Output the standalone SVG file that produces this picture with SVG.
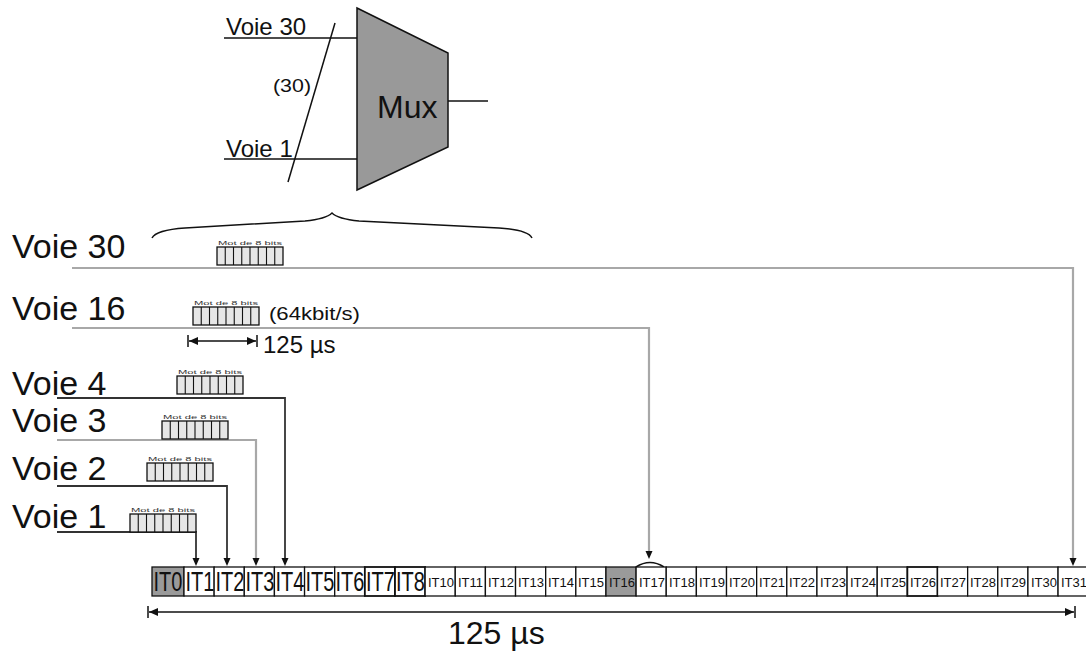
<svg xmlns="http://www.w3.org/2000/svg" xmlns:xlink="http://www.w3.org/1999/xlink" width="1086" height="653" viewBox="0 0 1086 653">
<style>
text{font-family:"Liberation Sans",Arial,sans-serif;fill:#111}
.lbl{font-size:34px}
.lbl2{font-size:24px}
.big{font-size:20px}
.sm{font-size:13px}
.tiny{font-size:6px;fill:#333}
.cell{fill:#fff;stroke:#111;stroke-width:1.3}
.gcell{fill:#9a9a9a;stroke:#111;stroke-width:1.3}
.ln{fill:none;stroke:#111;stroke-width:1.5}
.gray{fill:none;stroke:#a8a8a8;stroke-width:2.2}
.dark{fill:none;stroke:#333;stroke-width:1.8}
.wb{fill:#e6e6e6;stroke:#111;stroke-width:1.3}
.wl{stroke:#111;stroke-width:1.1}
</style>
<defs>
<marker id="ahs" markerUnits="userSpaceOnUse" markerWidth="10" markerHeight="9" refX="9" refY="4" orient="auto-start-reverse">
<path d="M0,0 L9,4 L0,8 Z" fill="#111"/>
</marker>
<g id="word">
<text class="tiny" x="1" y="-2.5" textLength="64" lengthAdjust="spacingAndGlyphs">Mot  de  8  bits</text>
<rect class="wb" x="0" y="0" width="66" height="18"/>
<path class="wl" d="M8.25,0V18M16.5,0V18M24.75,0V18M33,0V18M41.25,0V18M49.5,0V18M57.75,0V18"/>
</g>
</defs>

<g id="mux">
<line class="ln" x1="224" y1="38" x2="357" y2="38"/>
<line class="ln" x1="224" y1="159" x2="357" y2="159"/>
<line class="ln" x1="335" y1="23" x2="288" y2="182" stroke-width="1.2"/>
<text class="lbl2" x="226" y="35">Voie 30</text>
<text class="lbl2" x="226" y="157">Voie 1</text>
<text x="273" y="92" style="font-size:18px" textLength="38" lengthAdjust="spacingAndGlyphs">(30)</text>
<polygon points="357,8 448,53 448,147 357,190" fill="#999" stroke="#111" stroke-width="1.5"/>
<text x="377" y="118" style="font-size:32px">Mux</text>
<line class="ln" x1="448" y1="101" x2="488" y2="101"/>
</g>

<g id="brace">
<path class="ln" d="M152,238 Q156,230 185,228 L305,221 Q326,219 332,213 Q338,219 359,221 L499,228 Q528,230 532,238" stroke-width="1.6"/>
</g>

<g id="connectors">
<path class="gray" d="M72,268 H1073 V560"/>
<path class="gray" d="M72,328 H649 V555"/>
<path class="dark" d="M57,398 H285 V560"/>
<path class="gray" d="M57,440 H256 V560" stroke-width="1.8"/>
<path class="dark" d="M57,486 H227 V560"/>
<path class="dark" d="M57,532 H196 V560"/>
<path d="M1073,558 l-3.5,0 l3.5,8 l3.5,-8 z" fill="#111"/>
<path d="M649,551 l-3.5,0 l3.5,8 l3.5,-8 z" fill="#111"/>
<path d="M285,558 l-3.5,0 l3.5,8 l3.5,-8 z" fill="#111"/>
<path d="M256,558 l-3.5,0 l3.5,8 l3.5,-8 z" fill="#111"/>
<path d="M227,558 l-3.5,0 l3.5,8 l3.5,-8 z" fill="#111"/>
<path d="M196,558 l-3.5,0 l3.5,8 l3.5,-8 z" fill="#111"/>
<path class="ln" d="M636,567 Q650,558 664,567" stroke-width="1.6"/>
</g>

<g id="voie30">
<text class="lbl" x="12" y="258">Voie 30</text>
<use xlink:href="#word" x="217" y="247"/>
</g>
<g id="voie16">
<text class="lbl" x="12" y="320">Voie 16</text>
<use xlink:href="#word" x="193" y="307"/>
<text x="269" y="320" style="font-size:19px" textLength="91" lengthAdjust="spacingAndGlyphs">(64kbit/s)</text>
<line class="ln" x1="189" y1="341" x2="256" y2="341" marker-start="url(#ahs)" marker-end="url(#ahs)"/>
<path class="ln" d="M188,335V347M257,335V347" stroke-width="2"/>
<text x="263" y="353" style="font-size:24px">125 µs</text>
</g>
<g id="voie4">
<text class="lbl" x="12" y="395">Voie 4</text>
<use xlink:href="#word" x="177" y="376"/>
</g>
<g id="voie3">
<text class="lbl" x="12" y="432">Voie 3</text>
<use xlink:href="#word" x="162" y="421"/>
</g>
<g id="voie2">
<text class="lbl" x="12" y="480">Voie 2</text>
<use xlink:href="#word" x="147" y="463"/>
</g>
<g id="voie1">
<text class="lbl" x="12" y="528">Voie 1</text>
<use xlink:href="#word" x="130" y="514"/>
</g>

<g id="trame">
<rect class="gcell" x="152" y="567" width="32" height="29"/>
<rect class="cell" x="184" y="567" width="30.14" height="29"/>
<rect class="cell" x="214.14" y="567" width="30.14" height="29"/>
<rect class="cell" x="244.28" y="567" width="30.14" height="29"/>
<rect class="cell" x="274.42" y="567" width="30.14" height="29"/>
<rect class="cell" x="304.56" y="567" width="30.14" height="29"/>
<rect class="cell" x="334.7" y="567" width="30.14" height="29"/>
<rect class="cell" x="364.84" y="567" width="30.14" height="29" style="stroke-width:1.8"/>
<rect class="cell" x="394.98" y="567" width="30.14" height="29" style="stroke-width:1.8"/>
<g transform="translate(0,591) scale(1,1.38)">
<text class="big" x="153.5" y="0">IT0</text>
<text class="big" x="185.5" y="0">IT1</text>
<text class="big" x="215.5" y="0">IT2</text>
<text class="big" x="245.5" y="0">IT3</text>
<text class="big" x="275.5" y="0">IT4</text>
<text class="big" x="305.5" y="0">IT5</text>
<text class="big" x="335.5" y="0">IT6</text>
<text class="big" x="366" y="0">IT7</text>
<text class="big" x="396" y="0">IT8</text>
</g>
<rect class="cell" x="425.12" y="567" width="30.14" height="29"/>
<text class="sm" x="428" y="587">IT10</text>
<rect class="cell" x="455.26" y="567" width="30.14" height="29"/>
<text class="sm" x="458" y="587">IT11</text>
<rect class="cell" x="485.4" y="567" width="30.14" height="29"/>
<text class="sm" x="488" y="587">IT12</text>
<rect class="cell" x="515.54" y="567" width="30.14" height="29"/>
<text class="sm" x="518" y="587">IT13</text>
<rect class="cell" x="545.68" y="567" width="30.14" height="29"/>
<text class="sm" x="548" y="587">IT14</text>
<rect class="cell" x="575.82" y="567" width="30.14" height="29"/>
<text class="sm" x="578" y="587">IT15</text>
<rect class="gcell" x="605.96" y="567" width="30.14" height="29"/>
<text class="sm" x="609" y="587">IT16</text>
<rect class="cell" x="636.1" y="567" width="30.14" height="29"/>
<text class="sm" x="639" y="587">IT17</text>
<rect class="cell" x="666.24" y="567" width="30.14" height="29"/>
<text class="sm" x="669" y="587">IT18</text>
<rect class="cell" x="696.38" y="567" width="30.14" height="29"/>
<text class="sm" x="699" y="587">IT19</text>
<rect class="cell" x="726.52" y="567" width="30.14" height="29"/>
<text class="sm" x="729" y="587">IT20</text>
<rect class="cell" x="756.66" y="567" width="30.14" height="29"/>
<text class="sm" x="759" y="587">IT21</text>
<rect class="cell" x="786.8" y="567" width="30.14" height="29"/>
<text class="sm" x="789" y="587">IT22</text>
<rect class="cell" x="816.94" y="567" width="30.14" height="29"/>
<text class="sm" x="820" y="587">IT23</text>
<rect class="cell" x="847.08" y="567" width="30.14" height="29"/>
<text class="sm" x="850" y="587">IT24</text>
<rect class="cell" x="877.22" y="567" width="30.14" height="29"/>
<text class="sm" x="880" y="587">IT25</text>
<rect class="cell" x="907.36" y="567" width="30.14" height="29" style="stroke-width:1.8"/>
<text class="sm" x="910" y="587">IT26</text>
<rect class="cell" x="937.5" y="567" width="30.14" height="29"/>
<text class="sm" x="940" y="587">IT27</text>
<rect class="cell" x="967.64" y="567" width="30.14" height="29"/>
<text class="sm" x="970" y="587">IT28</text>
<rect class="cell" x="997.78" y="567" width="30.14" height="29"/>
<text class="sm" x="1000" y="587">IT29</text>
<rect class="cell" x="1027.92" y="567" width="30.14" height="29"/>
<text class="sm" x="1031" y="587">IT30</text>
<rect class="cell" x="1058.06" y="567" width="30.14" height="29"/>
<text class="sm" x="1061" y="587">IT31</text>
</g>

<g id="duree">
<line class="ln" x1="149" y1="612" x2="1074" y2="612" marker-start="url(#ahs)" marker-end="url(#ahs)"/>
<path class="ln" d="M148,606V618M1075,606V618" stroke-width="2"/>
<text x="448" y="644" style="font-size:32px">125 µs</text>
</g>
</svg>
